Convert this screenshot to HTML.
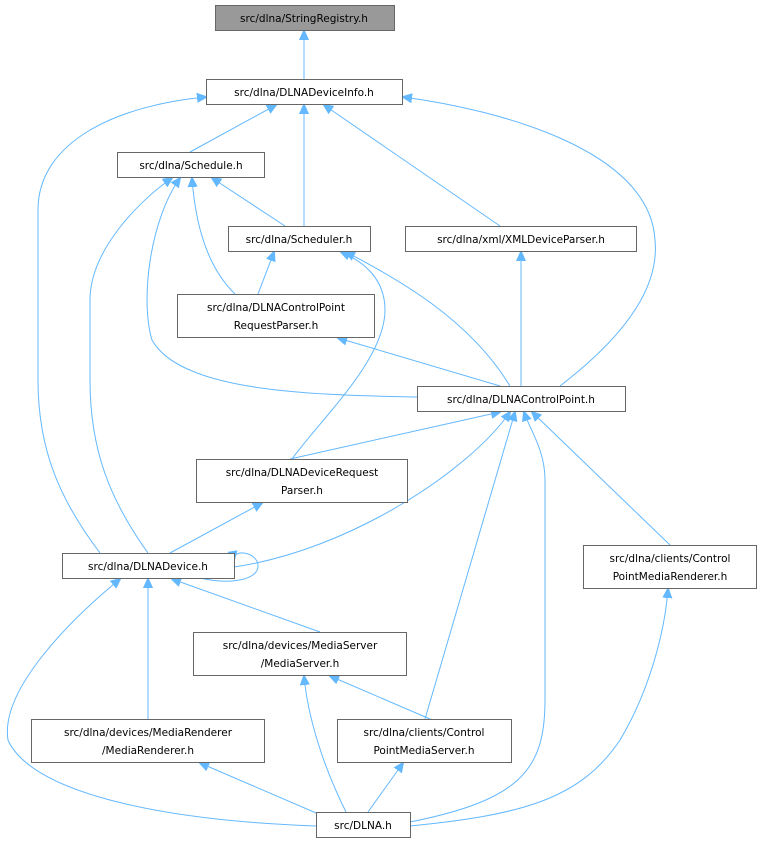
<!DOCTYPE html>
<html><head><meta charset="utf-8"><style>
html,body{margin:0;padding:0;background:#fff;}
svg{display:block;}
text{font-family:"DejaVu Sans","Liberation Sans",sans-serif;font-size:10.5px;fill:#000;}
.n{fill:#fff;stroke:#666;stroke-width:1;}
.e{fill:none;stroke:#63b8ff;stroke-width:1;}
</style></head><body>
<svg width="760" height="843" viewBox="0 0 760 843" xmlns="http://www.w3.org/2000/svg">
<defs><marker id="a" markerWidth="10" markerHeight="10" refX="9" refY="5" orient="auto" markerUnits="userSpaceOnUse">
<path d="M0,0.5 L10,5 L0,9.5 z" fill="#63b8ff" stroke="#63b8ff"/></marker></defs>
<g class="edges">
<path class="e" marker-end="url(#a)" d="M304,79 L304,31"/>
<path class="e" marker-end="url(#a)" d="M190,152 L276,105"/>
<path class="e" marker-end="url(#a)" d="M304,226 L304,105"/>
<path class="e" marker-end="url(#a)" d="M500,226 L324,105"/>
<path class="e" marker-end="url(#a)" d="M560,386 C620,340 660,290 655,240 C650,150 500,110 403,97"/>
<path class="e" marker-end="url(#a)" d="M100,553 C60,500 38,450 38,380 L38,210 C38,140 120,105 206,97"/>
<path class="e" marker-end="url(#a)" d="M285,226 L212,178"/>
<path class="e" marker-end="url(#a)" d="M235,294 C205,265 195,220 192,178"/>
<path class="e" marker-end="url(#a)" d="M417,397 C300,395 180,390 152,340 C140,300 150,220 180,178"/>
<path class="e" marker-end="url(#a)" d="M148,553 C110,500 90,450 90,380 L90,300 C90,250 140,200 172,178"/>
<path class="e" marker-end="url(#a)" d="M258,294 L274,252"/>
<path class="e" marker-end="url(#a)" d="M510,386 C470,320 400,280 346,252"/>
<path class="e" marker-end="url(#a)" d="M292,459 C320,420 385,360 385,310 C385,280 365,262 341,252"/>
<path class="e" marker-end="url(#a)" d="M521,386 L521,252"/>
<path class="e" marker-end="url(#a)" d="M500,386 L338,338"/>
<path class="e" marker-end="url(#a)" d="M290,459 L500,412"/>
<path class="e" marker-end="url(#a)" d="M234,567 C350,550 470,470 510,412"/>
<path class="e" marker-end="url(#a)" d="M425,719 L515,412"/>
<path class="e" marker-end="url(#a)" d="M410,822 C520,800 545,770 545,700 L545,480 C545,450 530,430 524,412"/>
<path class="e" marker-end="url(#a)" d="M670,545 L532,412"/>
<path class="e" marker-end="url(#a)" d="M170,553 L262,503"/>
<path class="e" marker-end="url(#a)" d="M200,578 C230,585 258,580 258,566 C258,552 232,548 234,560"/>
<path class="e" marker-end="url(#a)" d="M320,632 L172,579"/>
<path class="e" marker-end="url(#a)" d="M148,719 L148,579"/>
<path class="e" marker-end="url(#a)" d="M316,826 C150,820 30,790 8,740 C0,690 70,620 120,579"/>
<path class="e" marker-end="url(#a)" d="M430,719 L330,676"/>
<path class="e" marker-end="url(#a)" d="M346,812 C325,770 308,720 304,676"/>
<path class="e" marker-end="url(#a)" d="M330,819 L200,763"/>
<path class="e" marker-end="url(#a)" d="M368,812 L403,763"/>
<path class="e" marker-end="url(#a)" d="M410,826 C520,815 580,800 620,740 C650,690 665,630 668,589"/>
</g>
<g>
<rect x="215.5" y="5.5" width="179" height="25" fill="#999" stroke="#666"/>
<text x="304" y="22" text-anchor="middle">src/dlna/StringRegistry.h</text>
<rect class="n" x="206.5" y="79.5" width="196" height="25"/>
<text x="304" y="96" text-anchor="middle">src/dlna/DLNADeviceInfo.h</text>
<rect class="n" x="117.5" y="152.5" width="147" height="25"/>
<text x="191" y="169" text-anchor="middle">src/dlna/Schedule.h</text>
<rect class="n" x="228.5" y="226.5" width="142" height="25"/>
<text x="299" y="243" text-anchor="middle">src/dlna/Scheduler.h</text>
<rect class="n" x="405.5" y="226.5" width="231" height="25"/>
<text x="521" y="243" text-anchor="middle">src/dlna/xml/XMLDeviceParser.h</text>
<rect class="n" x="177.5" y="294.5" width="197" height="43"/>
<text x="276" y="311" text-anchor="middle">src/dlna/DLNAControlPoint</text>
<text x="276" y="329" text-anchor="middle">RequestParser.h</text>
<rect class="n" x="417.5" y="386.5" width="208" height="25"/>
<text x="521" y="403" text-anchor="middle">src/dlna/DLNAControlPoint.h</text>
<rect class="n" x="196.5" y="459.5" width="211" height="43"/>
<text x="302" y="476" text-anchor="middle">src/dlna/DLNADeviceRequest</text>
<text x="302" y="494" text-anchor="middle">Parser.h</text>
<rect class="n" x="62.5" y="553.5" width="172" height="25"/>
<text x="148" y="570" text-anchor="middle">src/dlna/DLNADevice.h</text>
<rect class="n" x="583.5" y="545.5" width="173" height="43"/>
<text x="670" y="562" text-anchor="middle">src/dlna/clients/Control</text>
<text x="670" y="580" text-anchor="middle">PointMediaRenderer.h</text>
<rect class="n" x="193.5" y="632.5" width="213" height="43"/>
<text x="300" y="649" text-anchor="middle">src/dlna/devices/MediaServer</text>
<text x="300" y="667" text-anchor="middle">/MediaServer.h</text>
<rect class="n" x="31.5" y="719.5" width="233" height="43"/>
<text x="148" y="736" text-anchor="middle">src/dlna/devices/MediaRenderer</text>
<text x="148" y="754" text-anchor="middle">/MediaRenderer.h</text>
<rect class="n" x="337.5" y="719.5" width="174" height="43"/>
<text x="424" y="736" text-anchor="middle">src/dlna/clients/Control</text>
<text x="424" y="754" text-anchor="middle">PointMediaServer.h</text>
<rect class="n" x="316.5" y="812.5" width="94" height="25"/>
<text x="363" y="829" text-anchor="middle">src/DLNA.h</text>
</g>
</svg>
</body></html>
